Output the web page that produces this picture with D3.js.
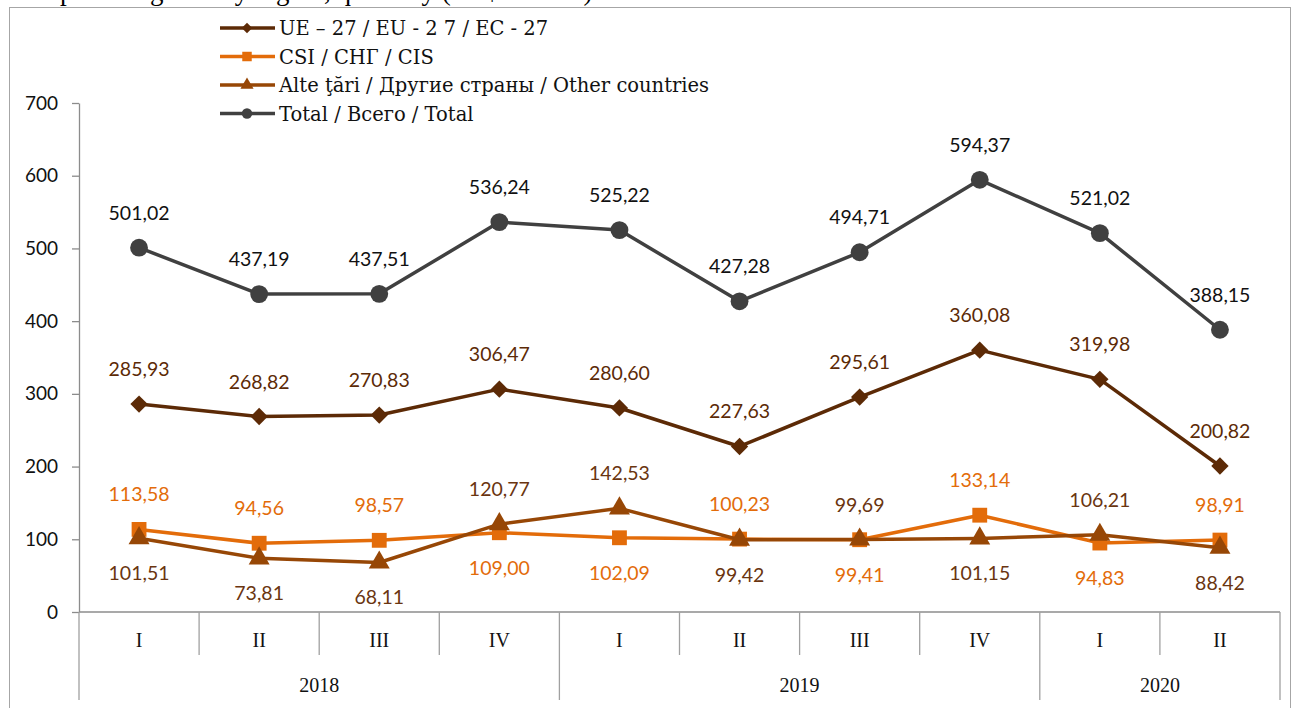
<!DOCTYPE html>
<html>
<head>
<meta charset="utf-8">
<script src="https://cdn.jsdelivr.net/npm/d3@7"></script>
<style>
  html, body { margin: 0; padding: 0; background: #fff; }
  svg { display: block; }
</style>
</head>
<body>
<svg id="chart" width="1298" height="708"></svg>
<script>
// ---- data ----
const quarters = ["I", "II", "III", "IV", "I", "II", "III", "IV", "I", "II"];
const years = ["2018", "2019", "2020"];
const yearCounts = [4, 4, 2];
const yTicks = [0, 100, 200, 300, 400, 500, 600, 700];

const seriesNames = [
  "UE – 27 / EU - 2 7 / EC - 27",
  "CSI / СНГ / CIS",
  "Alte ţări / Другие страны / Other countries",
  "Total / Всего / Total"
];
const ueValues    = [285.93, 268.82, 270.83, 306.47, 280.60, 227.63, 295.61, 360.08, 319.98, 200.82];
const csiValues   = [113.58, 94.56, 98.57, 109.00, 102.09, 100.23, 99.41, 133.14, 94.83, 98.91];
const otherValues = [101.51, 73.81, 68.11, 120.77, 142.53, 99.42, 99.69, 101.15, 106.21, 88.42];
const totalValues = [501.02, 437.19, 437.51, 536.24, 525.22, 427.28, 494.71, 594.37, 521.02, 388.15];
// label placement: 1 = above the point, -1 = below
const ueLabelPos    = [1, 1, 1, 1, 1, 1, 1, 1, 1, 1];
const csiLabelPos   = [1, 1, 1, -1, -1, 1, -1, 1, -1, 1];
const otherLabelPos = [-1, -1, -1, 1, 1, -1, 1, -1, 1, -1];
const totalLabelPos = [1, 1, 1, 1, 1, 1, 1, 1, 1, 1];

const titleText = "Exports of goods by region, quarterly (US$ million)";

// ---- setup ----
const svg = d3.select("#chart");
const plotLeft = 79, plotRight = 1280, plotTop = 103, plotBottom = 612;
const quarterRowBottom = 655, yearRowBottom = 700;

const x = d3.scaleBand().domain(d3.range(quarters.length)).range([plotLeft, plotRight]).paddingInner(0).paddingOuter(0);
const y = d3.scaleLinear().domain([0, 700]).range([plotBottom, plotTop]);
const cx = i => x(i) + x.bandwidth() / 2;

const axisColor = "#8c8c8c";
const numFont = "Lato, 'Open Sans', sans-serif";
const serifFont = "'Liberation Serif', 'DejaVu Serif', serif";
const legendFont = "'DejaVu Serif', 'Liberation Serif', serif";

// clipped title line at the very top (only its lowest part is visible, as in the reference)
svg.append("text")
  .attr("x", 30).attr("y", 0)
  .attr("font-family", serifFont).attr("font-size", 27).attr("fill", "#000")
  .text(titleText);

// outer frame
svg.append("rect")
  .attr("x", 9.5).attr("y", 7.5).attr("width", 1281).attr("height", 720)
  .attr("fill", "#fff").attr("stroke", "#a6a6a6").attr("stroke-width", 1);

// ---- y axis ----
const yAxis = d3.axisLeft(y).tickValues(yTicks).tickSize(7).tickSizeOuter(0).tickPadding(14)
  .tickFormat(d3.format("d"));
const gy = svg.append("g").attr("transform", `translate(${plotLeft},0)`).call(yAxis);
gy.select(".domain").attr("stroke", axisColor).attr("stroke-width", 1.3);
gy.selectAll(".tick line").attr("stroke", axisColor).attr("stroke-width", 1.3);
gy.selectAll(".tick text").attr("font-family", numFont).attr("font-size", 19).attr("fill", "#111");

// ---- category axis (multi-level) ----
const gx = svg.append("g");
gx.append("line")
  .attr("x1", x.range()[0]).attr("x2", x.range()[1])
  .attr("y1", y(0)).attr("y2", y(0))
  .attr("stroke", axisColor).attr("stroke-width", 1.3);
const boundaries = d3.range(quarters.length + 1).map(i => i < quarters.length ? x(i) : x.range()[1]);
const yearStarts = [0];
yearCounts.forEach((c, k) => yearStarts.push(yearStarts[k] + c));
gx.selectAll("line.sep").data(boundaries).join("line")
  .attr("class", "sep")
  .attr("x1", d => d).attr("x2", d => d)
  .attr("y1", y(0))
  .attr("y2", (d, i) => yearStarts.includes(i) ? yearRowBottom : quarterRowBottom)
  .attr("stroke", "#a0a0a0").attr("stroke-width", 1.3);
gx.selectAll("text.q").data(quarters).join("text")
  .attr("class", "q")
  .attr("x", (d, i) => cx(i)).attr("y", 647)
  .attr("text-anchor", "middle")
  .attr("font-family", serifFont).attr("font-size", 20).attr("fill", "#111")
  .text(d => d);
gx.selectAll("text.yr").data(years).join("text")
  .attr("class", "yr")
  .attr("x", (d, k) => (x(yearStarts[k]) + (yearStarts[k + 1] < quarters.length ? x(yearStarts[k + 1]) : x.range()[1])) / 2)
  .attr("y", 692)
  .attr("text-anchor", "middle")
  .attr("font-family", serifFont).attr("font-size", 20).attr("fill", "#111")
  .text(d => d);

// ---- series ----
const series = [
  { name: seriesNames[0], values: ueValues, pos: ueLabelPos, color: "#5c2a06", labelColor: "#5c2a06", symbol: d3.symbolSquare, rot: 45, size: 150, lsize: 55 },
  { name: seriesNames[1], values: csiValues, pos: csiLabelPos, color: "#e36c0a", labelColor: "#e36c0a", symbol: d3.symbolSquare, rot: 0, size: 220, lsize: 90 },
  { name: seriesNames[2], values: otherValues, pos: otherLabelPos, color: "#974706", labelColor: "#6a3510", symbol: d3.symbolTriangle, rot: 0, size: 190, lsize: 75 },
  { name: seriesNames[3], values: totalValues, pos: totalLabelPos, color: "#404040", labelColor: "#111", symbol: d3.symbolCircle, rot: 0, size: 250, lsize: 85 }
];

const line = d3.line().x((d, i) => cx(i)).y(d => y(d));
const fmt = v => d3.format(".2f")(v).replace(".", ",");

series.forEach(s => {
  const g = svg.append("g");
  g.append("path").datum(s.values)
    .attr("d", line)
    .attr("fill", "none").attr("stroke", s.color).attr("stroke-width", 3.5)
    .attr("stroke-linejoin", "round");
  g.selectAll("path.m").data(s.values).join("path")
    .attr("class", "m")
    .attr("d", d3.symbol().type(s.symbol).size(s.size))
    .attr("transform", (d, i) => `translate(${cx(i)},${y(d)}) rotate(${s.rot})`)
    .attr("fill", s.color);
});

// labels drawn on top
series.forEach(s => {
  svg.append("g").selectAll("text").data(s.values).join("text")
    .attr("x", (d, i) => cx(i))
    .attr("y", (d, i) => y(d) - s.pos[i] * 35 + 7)
    .attr("text-anchor", "middle")
    .attr("font-family", numFont).attr("font-size", 19.5)
    .attr("fill", s.labelColor)
    .text(d => fmt(d));
});

// ---- legend ----
const legend = svg.append("g");
series.forEach((s, k) => {
  const ly = 28 + k * 28.5;
  legend.append("line")
    .attr("x1", 220).attr("x2", 275).attr("y1", ly).attr("y2", ly)
    .attr("stroke", s.color).attr("stroke-width", 3.5);
  legend.append("path")
    .attr("d", d3.symbol().type(s.symbol).size(s.lsize))
    .attr("transform", `translate(247,${ly}) rotate(${s.rot})`)
    .attr("fill", s.color);
  legend.append("text")
    .attr("x", 279).attr("y", ly + 7)
    .attr("font-family", legendFont).attr("font-size", 19.5).attr("fill", "#111")
    .text(s.name);
});
</script>
</body>
</html>
